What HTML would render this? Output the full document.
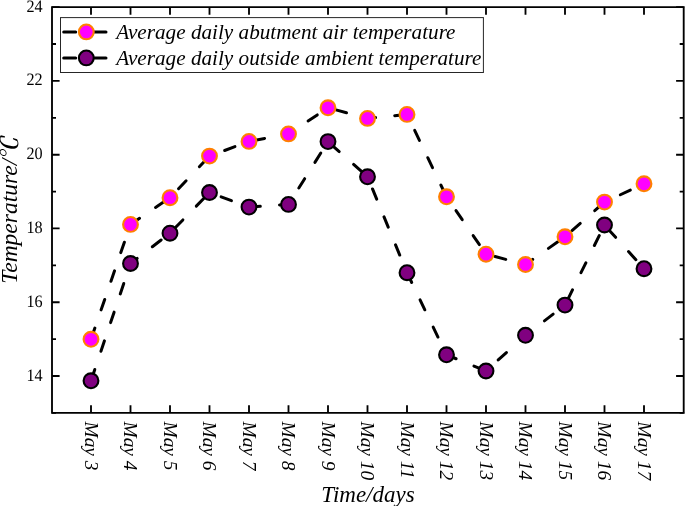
<!DOCTYPE html>
<html><head><meta charset="utf-8"><title>Temperature chart</title>
<style>html,body{margin:0;padding:0;background:#fff;width:685px;height:506px;overflow:hidden}</style></head>
<body>
<svg width="685" height="506" viewBox="0 0 685 506" style="display:block;position:absolute;left:0;top:0">
<rect width="685" height="506" fill="#fff"/>
<g fill="none" stroke="#000" stroke-width="3" stroke-linecap="round" stroke-dasharray="11 19.26"><line x1="91.0" y1="339.3" x2="130.5" y2="224.4" stroke-dashoffset="29.36"/><line x1="130.5" y1="224.4" x2="170.0" y2="197.7" stroke-dashoffset="0.06"/><line x1="170.0" y1="197.7" x2="209.5" y2="156.1" stroke-dashoffset="17.88"/><line x1="209.5" y1="156.1" x2="249.0" y2="141.4" stroke-dashoffset="14.12"/><line x1="249.0" y1="141.4" x2="288.5" y2="133.9" stroke-dashoffset="25.41"/><line x1="288.5" y1="133.9" x2="328.0" y2="107.8" stroke-dashoffset="6.80"/><line x1="328.0" y1="107.8" x2="367.5" y2="118.4" stroke-dashoffset="22.08"/><line x1="367.5" y1="118.4" x2="407.0" y2="114.4" stroke-dashoffset="2.91"/><line x1="407.0" y1="114.4" x2="446.5" y2="196.8" stroke-dashoffset="12.50"/><line x1="446.5" y1="196.8" x2="486.0" y2="254.2" stroke-dashoffset="13.50"/><line x1="486.0" y1="254.2" x2="525.5" y2="264.5" stroke-dashoffset="20.86"/><line x1="525.5" y1="264.5" x2="565.0" y2="236.8" stroke-dashoffset="2.21"/><line x1="565.0" y1="236.8" x2="604.5" y2="202.1" stroke-dashoffset="20.94"/><line x1="604.5" y1="202.1" x2="644.0" y2="183.8" stroke-dashoffset="12.80"/></g>
<g fill="none" stroke="#000" stroke-width="3" stroke-linecap="round" stroke-dasharray="11 19.26"><line x1="91.0" y1="380.8" x2="130.5" y2="263.5" stroke-dashoffset="29.36"/><line x1="130.5" y1="263.5" x2="170.0" y2="233.2" stroke-dashoffset="2.68"/><line x1="170.0" y1="233.2" x2="209.5" y2="192.5" stroke-dashoffset="22.76"/><line x1="209.5" y1="192.5" x2="249.0" y2="207.1" stroke-dashoffset="17.85"/><line x1="249.0" y1="207.1" x2="288.5" y2="204.4" stroke-dashoffset="29.95"/><line x1="288.5" y1="204.4" x2="328.0" y2="141.6" stroke-dashoffset="10.88"/><line x1="328.0" y1="141.6" x2="367.5" y2="176.8" stroke-dashoffset="26.24"/><line x1="367.5" y1="176.8" x2="407.0" y2="272.7" stroke-dashoffset="17.13"/><line x1="407.0" y1="272.7" x2="446.5" y2="354.8" stroke-dashoffset="0.11"/><line x1="446.5" y1="354.8" x2="486.0" y2="371.0" stroke-dashoffset="0.59"/><line x1="486.0" y1="371.0" x2="525.5" y2="335.3" stroke-dashoffset="13.77"/><line x1="525.5" y1="335.3" x2="565.0" y2="305.1" stroke-dashoffset="6.44"/><line x1="565.0" y1="305.1" x2="604.5" y2="225.0" stroke-dashoffset="24.35"/><line x1="604.5" y1="225.0" x2="644.0" y2="268.7" stroke-dashoffset="24.68"/></g>
<circle cx="91.0" cy="339.3" r="7.4" fill="#ff00ff" stroke="#ff8000" stroke-width="2.1"/>
<circle cx="130.5" cy="224.4" r="7.4" fill="#ff00ff" stroke="#ff8000" stroke-width="2.1"/>
<circle cx="170.0" cy="197.7" r="7.4" fill="#ff00ff" stroke="#ff8000" stroke-width="2.1"/>
<circle cx="209.5" cy="156.1" r="7.4" fill="#ff00ff" stroke="#ff8000" stroke-width="2.1"/>
<circle cx="249.0" cy="141.4" r="7.4" fill="#ff00ff" stroke="#ff8000" stroke-width="2.1"/>
<circle cx="288.5" cy="133.9" r="7.4" fill="#ff00ff" stroke="#ff8000" stroke-width="2.1"/>
<circle cx="328.0" cy="107.8" r="7.4" fill="#ff00ff" stroke="#ff8000" stroke-width="2.1"/>
<circle cx="367.5" cy="118.4" r="7.4" fill="#ff00ff" stroke="#ff8000" stroke-width="2.1"/>
<circle cx="407.0" cy="114.4" r="7.4" fill="#ff00ff" stroke="#ff8000" stroke-width="2.1"/>
<circle cx="446.5" cy="196.8" r="7.4" fill="#ff00ff" stroke="#ff8000" stroke-width="2.1"/>
<circle cx="486.0" cy="254.2" r="7.4" fill="#ff00ff" stroke="#ff8000" stroke-width="2.1"/>
<circle cx="525.5" cy="264.5" r="7.4" fill="#ff00ff" stroke="#ff8000" stroke-width="2.1"/>
<circle cx="565.0" cy="236.8" r="7.4" fill="#ff00ff" stroke="#ff8000" stroke-width="2.1"/>
<circle cx="604.5" cy="202.1" r="7.4" fill="#ff00ff" stroke="#ff8000" stroke-width="2.1"/>
<circle cx="644.0" cy="183.8" r="7.4" fill="#ff00ff" stroke="#ff8000" stroke-width="2.1"/>
<circle cx="91.0" cy="380.8" r="7.4" fill="#800080" stroke="#000" stroke-width="2.1"/>
<circle cx="130.5" cy="263.5" r="7.4" fill="#800080" stroke="#000" stroke-width="2.1"/>
<circle cx="170.0" cy="233.2" r="7.4" fill="#800080" stroke="#000" stroke-width="2.1"/>
<circle cx="209.5" cy="192.5" r="7.4" fill="#800080" stroke="#000" stroke-width="2.1"/>
<circle cx="249.0" cy="207.1" r="7.4" fill="#800080" stroke="#000" stroke-width="2.1"/>
<circle cx="288.5" cy="204.4" r="7.4" fill="#800080" stroke="#000" stroke-width="2.1"/>
<circle cx="328.0" cy="141.6" r="7.4" fill="#800080" stroke="#000" stroke-width="2.1"/>
<circle cx="367.5" cy="176.8" r="7.4" fill="#800080" stroke="#000" stroke-width="2.1"/>
<circle cx="407.0" cy="272.7" r="7.4" fill="#800080" stroke="#000" stroke-width="2.1"/>
<circle cx="446.5" cy="354.8" r="7.4" fill="#800080" stroke="#000" stroke-width="2.1"/>
<circle cx="486.0" cy="371.0" r="7.4" fill="#800080" stroke="#000" stroke-width="2.1"/>
<circle cx="525.5" cy="335.3" r="7.4" fill="#800080" stroke="#000" stroke-width="2.1"/>
<circle cx="565.0" cy="305.1" r="7.4" fill="#800080" stroke="#000" stroke-width="2.1"/>
<circle cx="604.5" cy="225.0" r="7.4" fill="#800080" stroke="#000" stroke-width="2.1"/>
<circle cx="644.0" cy="268.7" r="7.4" fill="#800080" stroke="#000" stroke-width="2.1"/>
<g stroke="#000" stroke-width="1.85" fill="none">
<path d="M52 6.3V413.7M51.2 412.9H684.7M51.2 7.1H684.7M683.7 6.3V413.7"/>
<path d="M91.0 412.9v-7.6M91.0 7.1v7.6M130.5 412.9v-7.6M130.5 7.1v7.6M170.0 412.9v-7.6M170.0 7.1v7.6M209.5 412.9v-7.6M209.5 7.1v7.6M249.0 412.9v-7.6M249.0 7.1v7.6M288.5 412.9v-7.6M288.5 7.1v7.6M328.0 412.9v-7.6M328.0 7.1v7.6M367.5 412.9v-7.6M367.5 7.1v7.6M407.0 412.9v-7.6M407.0 7.1v7.6M446.5 412.9v-7.6M446.5 7.1v7.6M486.0 412.9v-7.6M486.0 7.1v7.6M525.5 412.9v-7.6M525.5 7.1v7.6M565.0 412.9v-7.6M565.0 7.1v7.6M604.5 412.9v-7.6M604.5 7.1v7.6M644.0 412.9v-7.6M644.0 7.1v7.6M52 376.0h7.6M683.7 376.0h-7.6M52 302.2h7.6M683.7 302.2h-7.6M52 228.4h7.6M683.7 228.4h-7.6M52 154.7h7.6M683.7 154.7h-7.6M52 80.9h7.6M683.7 80.9h-7.6M52 7.1h7.6M683.7 7.1h-7.6M52 412.9h4M683.7 412.9h-4M52 339.1h4M683.7 339.1h-4M52 265.3h4M683.7 265.3h-4M52 191.6h4M683.7 191.6h-4M52 117.8h4M683.7 117.8h-4M52 44.0h4M683.7 44.0h-4"/>
</g>
<g font-family="'Liberation Serif', serif" font-size="17.4" text-rendering="geometricPrecision" fill="#000">
<text transform="translate(42.7 380.5) scale(0.93 1)" text-anchor="end">14</text>
<text transform="translate(42.7 306.7) scale(0.93 1)" text-anchor="end">16</text>
<text transform="translate(42.7 232.9) scale(0.93 1)" text-anchor="end">18</text>
<text transform="translate(42.7 159.2) scale(0.93 1)" text-anchor="end">20</text>
<text transform="translate(42.7 85.4) scale(0.93 1)" text-anchor="end">22</text>
<text transform="translate(42.7 11.6) scale(0.93 1)" text-anchor="end">24</text>
</g>
<g font-family="'Liberation Serif', serif" font-size="19.4" font-style="italic" fill="#000">
<text transform="translate(84.5 421.5) rotate(90)">May 3</text>
<text transform="translate(124.0 421.5) rotate(90)">May 4</text>
<text transform="translate(163.5 421.5) rotate(90)">May 5</text>
<text transform="translate(203.0 421.5) rotate(90)">May 6</text>
<text transform="translate(242.5 421.5) rotate(90)">May 7</text>
<text transform="translate(282.0 421.5) rotate(90)">May 8</text>
<text transform="translate(321.5 421.5) rotate(90)">May 9</text>
<text transform="translate(361.0 421.5) rotate(90)">May 10</text>
<text transform="translate(400.5 421.5) rotate(90)">May 11</text>
<text transform="translate(440.0 421.5) rotate(90)">May 12</text>
<text transform="translate(479.5 421.5) rotate(90)">May 13</text>
<text transform="translate(519.0 421.5) rotate(90)">May 14</text>
<text transform="translate(558.5 421.5) rotate(90)">May 15</text>
<text transform="translate(598.0 421.5) rotate(90)">May 16</text>
<text transform="translate(637.5 421.5) rotate(90)">May 17</text>
</g>
<g font-family="'Liberation Serif', serif" font-size="21.2" font-style="italic" fill="#000">
<text x="368" y="501.7" text-anchor="middle" font-size="23">Time/days</text>
<text transform="translate(16.6 210.5) rotate(-90)" text-anchor="middle" font-size="23.5">Temperature/<tspan font-family="Noto Serif CJK SC, serif" font-weight="600" font-size="24" dx="-2.5" dy="1">℃</tspan></text>
<rect x="60.5" y="17.6" width="422.9" height="54.9" fill="#fff" stroke="#262626" stroke-width="1"/>
<path d="M63.7 31.9H75.7M94 31.9H106" stroke="#000" stroke-width="3" stroke-linecap="round"/>
<circle cx="86.3" cy="31.9" r="7.4" fill="#ff00ff" stroke="#ff8000" stroke-width="2.1"/>
<text x="116.2" y="39.1">Average daily abutment air temperature</text>
<path d="M63.7 57.9H75.7M94 57.9H106" stroke="#000" stroke-width="3" stroke-linecap="round"/>
<circle cx="86.3" cy="57.9" r="7.4" fill="#800080" stroke="#000" stroke-width="2.1"/>
<text x="116.2" y="65.1">Average daily outside ambient temperature</text>
</g>
</svg>
</body></html>
